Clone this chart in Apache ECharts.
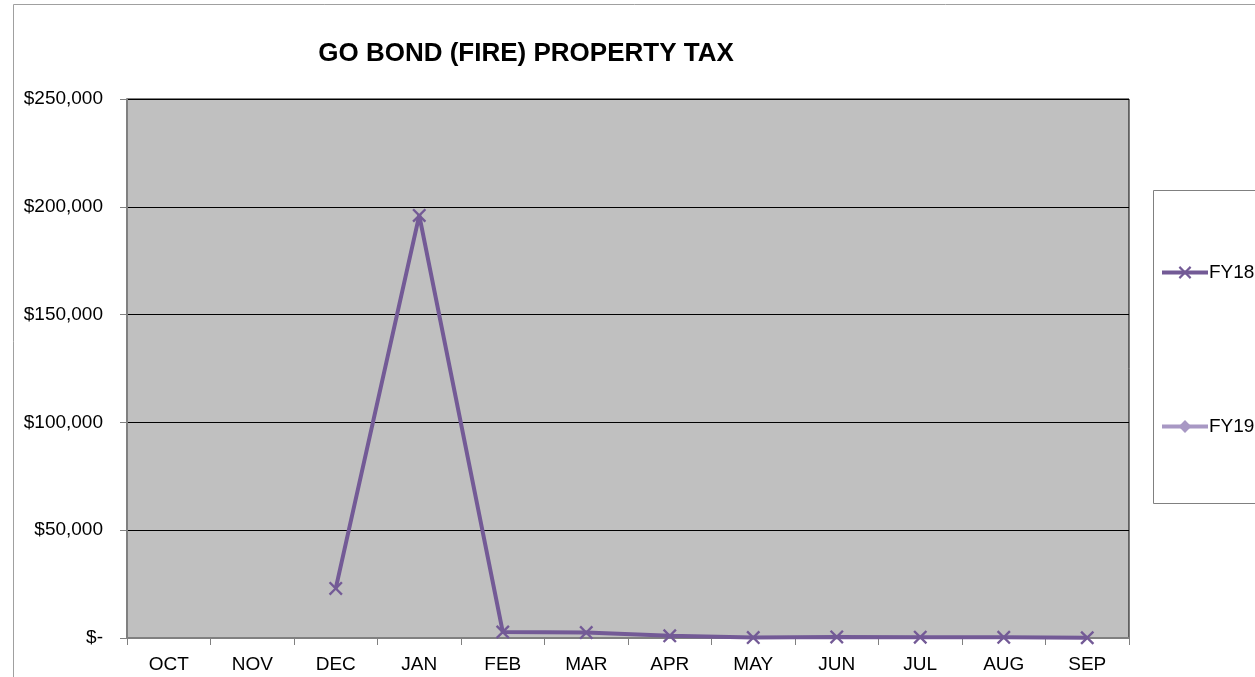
<!DOCTYPE html>
<html><head><meta charset="utf-8">
<script src="https://cdn.jsdelivr.net/npm/echarts@6/dist/echarts.min.js"></script>
<style>html,body{margin:0;padding:0;background:#fff}#c{width:1255px;height:677px}</style>
</head><body><div id="c"></div>
<script>
const categories = ['OCT','NOV','DEC','JAN','FEB','MAR','APR','MAY','JUN','JUL','AUG','SEP'];
const fy18 = [null, null, 23000, 196000, 2800, 2500, 1000, 200, 500, 400, 300, 100];
const fy19 = [null, null, null, null, null, null, null, null, null, null, null, null];
const yTicks = [0, 50000, 100000, 150000, 200000, 250000];

const xShape = 'path://M0,1.2L1.2,0L5,3.8L8.8,0L10,1.2L6.2,5L10,8.8L8.8,10L5,6.2L1.2,10L0,8.8L3.8,5Z';
const chart = echarts.init(document.getElementById('c'));
chart.setOption({
  animation: false,
  textStyle: {fontFamily: 'Liberation Sans, Arial, sans-serif'},
  title: {text: 'GO BOND (FIRE) PROPERTY TAX', left: 521, top: 36, textAlign: 'center',
    textStyle: {fontSize: 26, fontWeight: 'bold', color: '#000', fontFamily: 'Liberation Sans, Arial, sans-serif'}},
  graphic: [
    {type: 'rect', shape: {x: 13.5, y: 4.5, width: 1300, height: 700}, style: {fill: 'none', stroke: '#a0a0a0', lineWidth: 1}, z: -10},
    {type: 'rect', shape: {x: 1153.5, y: 190.5, width: 200, height: 313}, style: {fill: '#fff', stroke: '#808080', lineWidth: 1}, z: 0}
  ],
  legend: {
    orient: 'vertical', left: 1155, top: 258, itemGap: 135, itemWidth: 46, itemHeight: 16,
    textStyle: {fontSize: 19, color: '#000', padding: [0,0,0,-4]},
    lineStyle: {width: 4},
    data: ['FY18', 'FY19']
  },
  grid: {left: 127, top: 99, right: 126, bottom: 39, show: true, backgroundColor: '#c0c0c0', borderColor: '#000', borderWidth: 1},
  xAxis: {
    type: 'category', data: categories, boundaryGap: true,
    axisLine: {lineStyle: {color: '#808080', width: 2}},
    axisTick: {show: true, length: 7, lineStyle: {color: '#808080'}},
    axisLabel: {fontSize: 19, color: '#000', margin: 17}
  },
  yAxis: {
    type: 'value', min: 0, max: 250000, interval: 50000,
    axisLine: {show: true, lineStyle: {color: '#808080', width: 2}},
    axisTick: {show: true, length: 7, lineStyle: {color: '#808080'}},
    splitLine: {lineStyle: {color: '#000', width: 1}},
    axisLabel: {fontSize: 19, color: '#000', margin: 24,
      formatter: v => v === 0 ? '$-' : '$' + v.toLocaleString('en-US')}
  },
  series: [
    {name: 'FY18', type: 'line', data: fy18, symbol: xShape, symbolSize: 14,
      lineStyle: {color: '#735a96', width: 4}, itemStyle: {color: '#735a96'}, connectNulls: false},
    {name: 'FY19', type: 'line', data: fy19, symbol: 'diamond', symbolSize: 12,
      lineStyle: {color: '#a898c4', width: 4}, itemStyle: {color: '#a898c4'}}
  ]
});
</script></body></html>
